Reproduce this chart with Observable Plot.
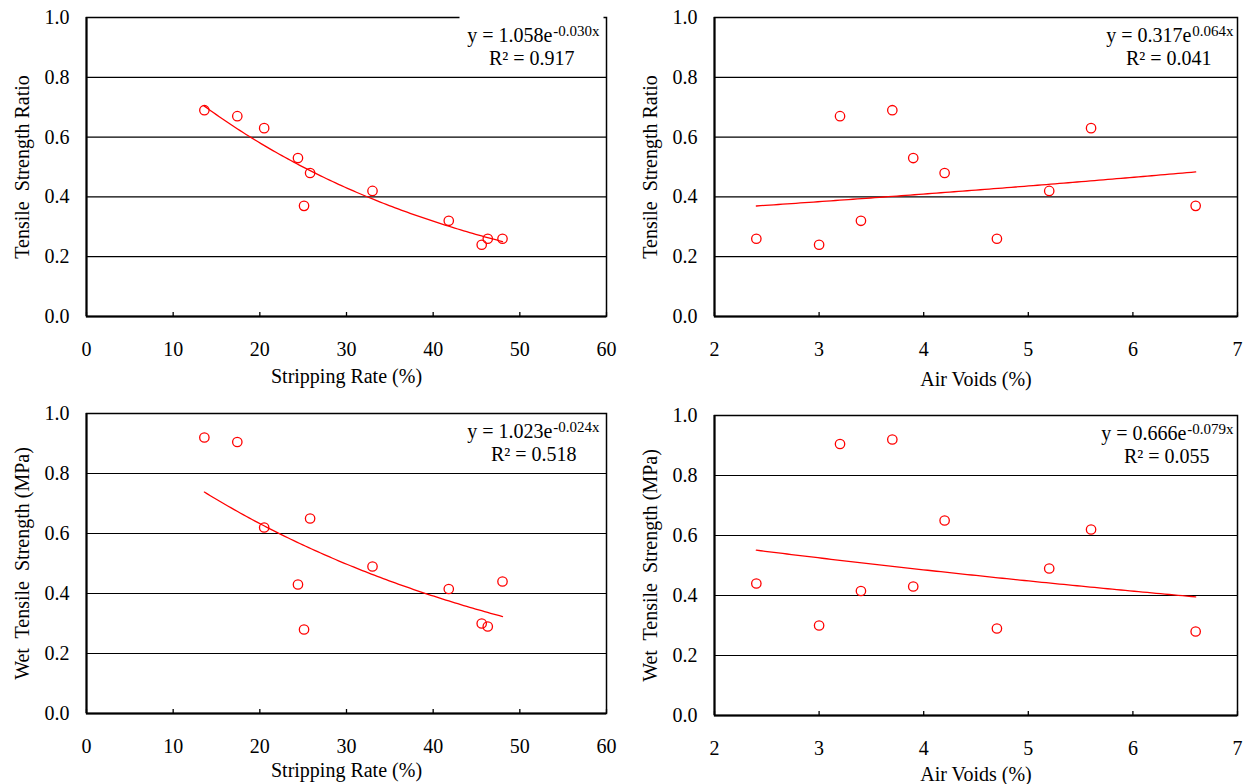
<!DOCTYPE html>
<html><head><meta charset="utf-8">
<script src="https://cdn.jsdelivr.net/npm/d3@7"></script>
<script src="https://cdn.jsdelivr.net/npm/@observablehq/plot@0.6"></script>
<style>
body{margin:0;background:#fff;}
#wrap{position:relative;width:1248px;height:784px;overflow:hidden;}
#wrap svg{position:absolute;}
</style></head><body><div id="wrap"></div>
<script>
// Samples (same specimens in every panel)
const strippingRate = [13.6, 17.4, 20.5, 24.4, 25.8, 25.1, 33.0, 41.8, 45.6, 46.3, 48.0];
const airVoids = [3.7, 3.2, 5.6, 3.9, 4.2, 6.6, 5.2, 3.4, 3.0, 4.7, 2.4];
const tensileStrengthRatio = [0.69, 0.67, 0.63, 0.53, 0.48, 0.37, 0.42, 0.32, 0.24, 0.26, 0.26];
const wetTensileStrength = [0.92, 0.905, 0.62, 0.43, 0.65, 0.28, 0.49, 0.415, 0.30, 0.29, 0.44];

// Exponential trendlines y = a·e^(b·x) as printed on each panel
const fitA = [1.058, 0.317, 1.023, 0.666];
const fitB = [-0.030, 0.064, -0.024, -0.079];
const eqMain = ["y = 1.058e", "y = 0.317e", "y = 1.023e", "y = 0.666e"];
const eqSup = ["-0.030x", "0.064x", "-0.024x", "-0.079x"];
const r2Labels = ["R\u00B2 = 0.917", "R\u00B2 = 0.041", "R\u00B2 = 0.518", "R\u00B2 = 0.055"];

// Axes
const srTicks = [0, 10, 20, 30, 40, 50, 60];
const avTicks = [2, 3, 4, 5, 6, 7];
const yTicks = [0, 0.2, 0.4, 0.6, 0.8, 1.0];
const yGrid = [0.2, 0.4, 0.6, 0.8];
const xTitles = ["Stripping Rate (%)", "Air Voids (%)", "Stripping Rate (%)", "Air Voids (%)"];
const yTitles = ["Tensile\u00A0 Strength Ratio", "Tensile\u00A0 Strength Ratio",
                 "Wet\u00A0 Tensile\u00A0 Strength (MPa)", "Wet\u00A0 Tensile\u00A0 Strength (MPa)"];

const FONT = "Liberation Serif";

function panel(i, xVals, yVals, xTicks, layout) {
  const {left, top, mL, mR, mT, mB, titleDy, eqDx, supDx, r2Dx, cover} = layout;
  const data = xVals.map((x, k) => ({x, y: yVals[k]}));
  const [x0, x1] = d3.extent(xVals);
  const trend = d3.range(0, 101).map(k => {
    const x = x0 + (x1 - x0) * k / 100;
    return {x, y: fitA[i] * Math.exp(fitB[i] * x)};
  });
  const H = 392, plotH = H - mT - mB;
  const svg = Plot.plot({
    width: 624, height: H,
    marginLeft: mL, marginRight: mR, marginTop: mT, marginBottom: mB,
    style: {fontFamily: FONT, fontSize: "20px", background: "white", color: "black"},
    x: {domain: [xTicks[0], xTicks[xTicks.length - 1]]},
    y: {domain: [0, 1]},
    marks: [
      Plot.ruleY(yGrid, {stroke: "black", strokeWidth: 1.2}),
      Plot.tickX(xTicks, {x: d => d, insetTop: plotH - 4, stroke: "black", strokeWidth: 1.3}),
      Plot.frame({stroke: "black", strokeWidth: 1.5}),
      cover ? Plot.frame({fill: "white", stroke: "none", insetLeft: cover, insetRight: 3, insetTop: -2, insetBottom: plotH - 3}) : null,
      Plot.ruleX([xTicks[0]], {stroke: "black", strokeWidth: 2}),
      Plot.ruleY([0], {stroke: "black", strokeWidth: 2}),
      Plot.axisX({ticks: xTicks, tickSize: 0, tickPadding: 25, label: null, tickFormat: d3.format("d"), fontFamily: FONT, fontSize: 20}),
      Plot.axisY({ticks: yTicks, tickSize: 0, tickPadding: 17, label: null, tickFormat: d3.format(".1f"), fontFamily: FONT, fontSize: 20}),
      Plot.line(trend, {x: "x", y: "y", stroke: "#ff0000", strokeWidth: 1.3}),
      Plot.dot(data, {x: "x", y: "y", r: 4.7, stroke: "#ff0000", strokeWidth: 1.3, fill: "none"}),
      Plot.text([eqMain[i]], {frameAnchor: "top-right", textAnchor: "end", lineAnchor: "bottom", dx: eqDx, dy: 24, fontSize: 20, fontFamily: FONT}),
      Plot.text([eqSup[i]], {frameAnchor: "top-right", textAnchor: "end", lineAnchor: "bottom", dx: supDx, dy: 18, fontSize: 15, fontFamily: FONT}),
      Plot.text([r2Labels[i]], {frameAnchor: "top-right", textAnchor: "end", lineAnchor: "bottom", dx: r2Dx, dy: 47, fontSize: 20, fontFamily: FONT}),
      Plot.text([xTitles[i]], {frameAnchor: "bottom", textAnchor: "middle", lineAnchor: "bottom", dy: titleDy, fontSize: 20, fontFamily: FONT}),
      Plot.text([yTitles[i]], {frameAnchor: "left", textAnchor: "middle", lineAnchor: "bottom", rotate: -90, dx: -58, fontSize: 20, fontFamily: FONT})
    ]
  });
  svg.style.left = left + "px";
  svg.style.top = top + "px";
  document.getElementById("wrap").appendChild(svg);
}

panel(0, strippingRate, tensileStrengthRatio, srTicks,
  {left: 0, top: 0, mL: 86, mR: 18, mT: 17, mB: 76, titleDy: 66, eqDx: -54, supDx: -7, r2Dx: -32, cover: 373});
panel(1, airVoids, tensileStrengthRatio, avTicks,
  {left: 624, top: 0, mL: 90, mR: 11, mT: 17, mB: 76, titleDy: 69, eqDx: -46, supDx: -4, r2Dx: -26});
panel(2, strippingRate, wetTensileStrength, srTicks,
  {left: 0, top: 392, mL: 86, mR: 18, mT: 21, mB: 71, titleDy: 63, eqDx: -54, supDx: -7, r2Dx: -30});
panel(3, airVoids, wetTensileStrength, avTicks,
  {left: 624, top: 392, mL: 90, mR: 11, mT: 23, mB: 69, titleDy: 65, eqDx: -51, supDx: -4, r2Dx: -28});
</script>
</body></html>
